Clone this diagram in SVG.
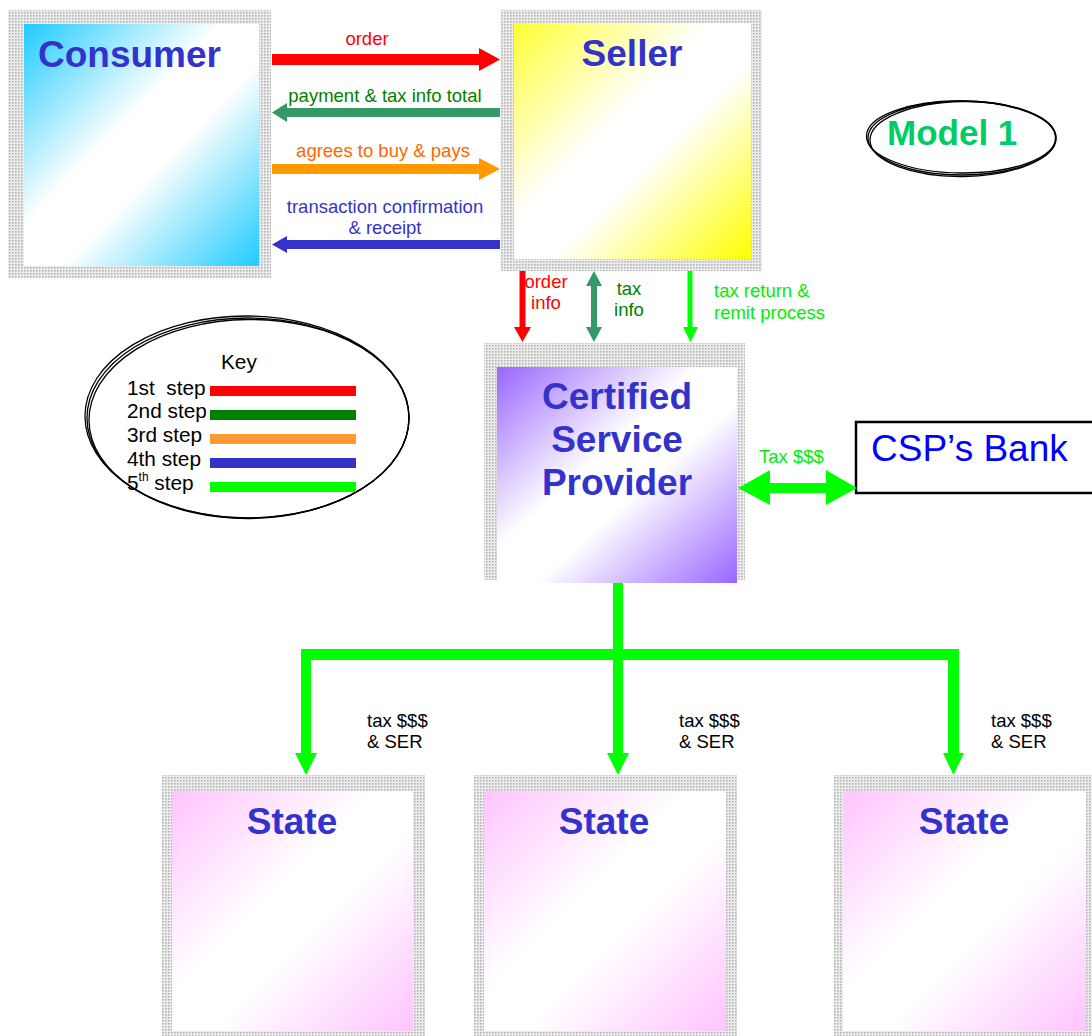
<svg xmlns="http://www.w3.org/2000/svg" width="1092" height="1036" viewBox="0 0 1092 1036">
<style>
text{font-family:"Liberation Sans",Arial,Helvetica,sans-serif}
.title{font-size:37px;font-weight:bold;fill:#3333CC}
.lbl{font-size:18.5px}
.key{font-size:20.8px;fill:#000}
.shadow{fill:url(#dots)}
.ell{fill:none;stroke:#000;stroke-width:1.3}
</style>
<defs>
<pattern id="dots" width="3" height="3" patternUnits="userSpaceOnUse">
<rect width="3" height="3" fill="#ececec"/>
<rect width="1.6" height="1.6" fill="#b4b4b4"/>
</pattern>
<linearGradient id="gCyan" x1="0" y1="0" x2="1" y2="1">
<stop offset="0" stop-color="#1ECBFF"/><stop offset="0.42" stop-color="#fff"/><stop offset="0.58" stop-color="#fff"/><stop offset="1" stop-color="#1ECBFF"/>
</linearGradient>
<linearGradient id="gYellow" x1="0" y1="0" x2="1" y2="1">
<stop offset="0" stop-color="#FFFF33"/><stop offset="0.42" stop-color="#fff"/><stop offset="0.58" stop-color="#fff"/><stop offset="1" stop-color="#FFFF00"/>
</linearGradient>
<linearGradient id="gPurple" x1="0" y1="0" x2="1" y2="1">
<stop offset="0" stop-color="#9966FF"/><stop offset="0.42" stop-color="#fff"/><stop offset="0.58" stop-color="#fff"/><stop offset="1" stop-color="#9966FF"/>
</linearGradient>
<linearGradient id="gPink" x1="0" y1="0" x2="1" y2="1">
<stop offset="0" stop-color="#FFC4FF"/><stop offset="0.42" stop-color="#fff"/><stop offset="0.58" stop-color="#fff"/><stop offset="1" stop-color="#FFC4FF"/>
</linearGradient>
</defs>
<rect width="1092" height="1036" fill="#fff"/>

<g id="consumer">
<rect class="shadow" x="8" y="10" width="263" height="268"/>
<rect x="24" y="24" width="235" height="242" fill="url(#gCyan)"/>
<text class="title" x="38" y="67">Consumer</text>
</g>

<g id="seller">
<rect class="shadow" x="501" y="10" width="261" height="261"/>
<rect x="514" y="23" width="237" height="236" fill="url(#gYellow)"/>
<text class="title" x="632" y="66" text-anchor="middle">Seller</text>
</g>

<g id="model1">
<ellipse class="ell" cx="962" cy="138" rx="94" ry="37"/>
<ellipse class="ell" cx="963" cy="139" rx="93" ry="37.5" transform="rotate(-0.8 963 139)"/>
<ellipse class="ell" cx="961" cy="137" rx="94.5" ry="36" transform="rotate(0.6 961 137)"/>
<text x="887" y="145" style="font-size:35px;font-weight:bold;fill:#00CC66">Model 1</text>
</g>

<g id="key">
<ellipse class="ell" cx="248" cy="418" rx="161" ry="100"/>
<ellipse class="ell" cx="249" cy="419" rx="160" ry="99.5" transform="rotate(-0.6 249 419)"/>
<ellipse class="ell" cx="247" cy="417" rx="162" ry="101" transform="rotate(0.5 247 417)"/>
<text class="key" x="221" y="369">Key</text>
<text class="key" x="127" y="395" xml:space="preserve">1st  step</text>
<text class="key" x="127" y="418">2nd step</text>
<text class="key" x="127" y="442">3rd step</text>
<text class="key" x="127" y="466">4th step</text>
<text class="key" x="127" y="490">5<tspan dy="-9" style="font-size:12px">th</tspan><tspan dy="9" xml:space="preserve"> step</tspan></text>
<rect x="210" y="386" width="146" height="10" fill="#FF0000"/>
<rect x="210" y="410" width="146" height="10" fill="#008000"/>
<rect x="210" y="434" width="146" height="10" fill="#FF9933"/>
<rect x="210" y="458" width="146" height="10" fill="#3333CC"/>
<rect x="210" y="482" width="146" height="10" fill="#00FF00"/>
</g>

<g id="csp">
<rect class="shadow" x="484" y="343" width="261" height="237"/>
<rect x="497" y="367" width="240" height="216" fill="url(#gPurple)"/>
<text class="title" x="617" y="409" text-anchor="middle">Certified</text>
<text class="title" x="617" y="452" text-anchor="middle">Service</text>
<text class="title" x="617" y="495" text-anchor="middle">Provider</text>
</g>

<g id="cspbank">
<rect x="856" y="422" width="250" height="71" fill="#fff" stroke="#000" stroke-width="2.5"/>
<text x="871" y="461" style="font-size:37px;fill:#0000FF">CSP’s Bank</text>
</g>

<g id="state1">
<rect class="shadow" x="162" y="775" width="263" height="261"/>
<rect x="172" y="791" width="241" height="240" fill="url(#gPink)"/>
<text class="title" x="292" y="834" text-anchor="middle">State</text>
</g>
<g id="state2">
<rect class="shadow" x="474" y="775" width="263" height="261"/>
<rect x="484" y="791" width="242" height="240" fill="url(#gPink)"/>
<text class="title" x="604" y="834" text-anchor="middle">State</text>
</g>
<g id="state3">
<rect class="shadow" x="834" y="775" width="258" height="261"/>
<rect x="843" y="791" width="243" height="240" fill="url(#gPink)"/>
<text class="title" x="964" y="834" text-anchor="middle">State</text>
</g>

<g id="connectors">
<path d="M272,54 H479 V48 L500,59.5 L479,71 V65 H272 Z" fill="#FF0000"/>
<text class="lbl" x="367" y="45" text-anchor="middle" fill="#FF0000">order</text>
<path d="M500,108 H287 V103 L272,112.5 L287,122 V117 H500 Z" fill="#339966"/>
<text class="lbl" x="385" y="102" text-anchor="middle" fill="#008000">payment &amp; tax info total</text>
<path d="M272,164 H479 V158 L500,169 L479,180 V174 H272 Z" fill="#FF9900"/>
<text class="lbl" x="383" y="157" text-anchor="middle" fill="#FF6600">agrees to buy &amp; pays</text>
<path d="M500,240 H287 V236 L272,244.5 L287,253 V249 H500 Z" fill="#3333CC"/>
<text class="lbl" x="385" y="213" text-anchor="middle" fill="#3333CC">transaction confirmation</text>
<text class="lbl" x="385" y="234" text-anchor="middle" fill="#3333CC">&amp; receipt</text>

<path d="M519.5,271 H525.5 V327 H531 L522.5,342 L514,327 H519.5 Z" fill="#FF0000"/>
<text class="lbl" x="546" y="288" text-anchor="middle" fill="#FF0000">order</text>
<text class="lbl" x="546" y="309" text-anchor="middle" fill="#FF0000">info</text>
<path d="M594,271 L602,286 H597 V327 H602 L594,342 L586,327 H591 V286 H586 Z" fill="#339966"/>
<text class="lbl" x="629" y="295" text-anchor="middle" fill="#008000">tax</text>
<text class="lbl" x="629" y="316" text-anchor="middle" fill="#008000">info</text>
<path d="M687.5,271 H692.5 V327 H698 L690.5,342 L683,327 H687.5 Z" fill="#00FF00"/>
<text class="lbl" x="714" y="297" fill="#00EE00">tax return &amp;</text>
<text class="lbl" x="714" y="319" fill="#00EE00">remit process</text>

<path d="M738,488 L770,470 V483 H826 V470 L857,488 L826,505 V493 H770 V505 Z" fill="#00FF00"/>
<text class="lbl" x="759" y="463" fill="#00EE00">Tax $$$</text>

<path d="M613,583 H623 V649 H959 V753 H964 L953.5,775 L943,753 H948 V660 H623 V753 H629 L618,775 L607,753 H613 V660 H311 V753 H317 L306,775 L295,753 H301 V649 H613 Z" fill="#00FF00"/>
<text class="lbl" x="367" y="727" fill="#000">tax $$$</text>
<text class="lbl" x="367" y="748" fill="#000">&amp; SER</text>
<text class="lbl" x="679" y="727" fill="#000">tax $$$</text>
<text class="lbl" x="679" y="748" fill="#000">&amp; SER</text>
<text class="lbl" x="991" y="727" fill="#000">tax $$$</text>
<text class="lbl" x="991" y="748" fill="#000">&amp; SER</text>
</g>
</svg>
